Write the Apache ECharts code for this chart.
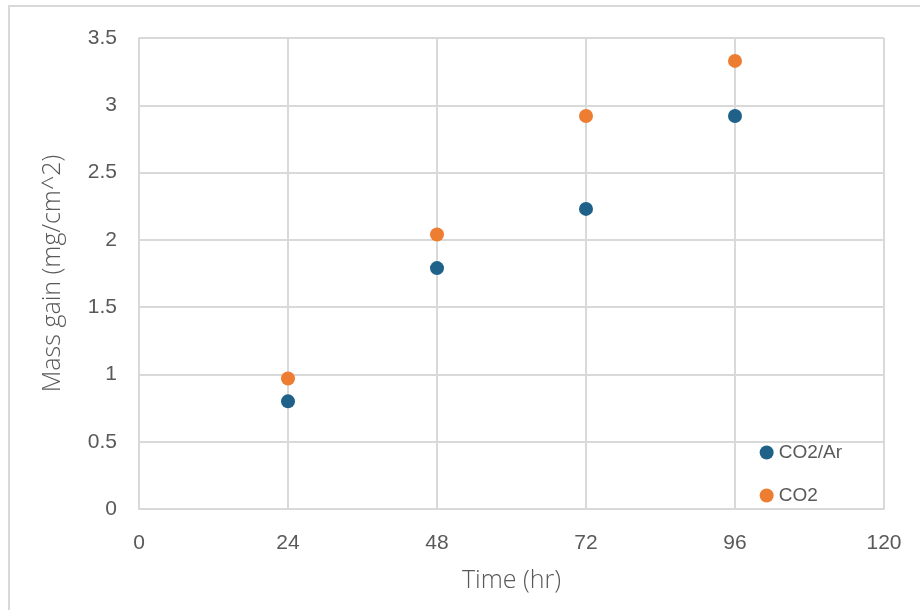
<!DOCTYPE html>
<html>
<head>
<meta charset="utf-8">
<script src="https://cdn.jsdelivr.net/npm/echarts@6/dist/echarts.min.js"></script>
<style>
  html, body { margin: 0; padding: 0; background: #ffffff; }
  #chart { width: 920px; height: 610px; }
</style>
</head>
<body>
<div id="chart"></div>
<script>
// Exposure time in hours
const times = [24, 48, 72, 96];
// Mass gain (mg/cm^2) for each atmosphere
const co2ArGain = [0.80, 1.79, 2.23, 2.92];
const co2Gain = [0.97, 2.04, 2.92, 3.33];
const seriesNames = ['CO2/Ar', 'CO2'];

const FONT = '"Liberation Sans", Arial, sans-serif';
const TITLE_FONT = '"Open Sans", "Liberation Sans", sans-serif';
const TEXT = '#595959';
const GRID = '#d9d9d9';

const chart = echarts.init(document.getElementById('chart'), null, { renderer: 'canvas' });

chart.setOption({
  backgroundColor: '#ffffff',
  animation: false,
  graphic: [{
    type: 'rect',
    shape: { x: 9, y: 6, width: 1000, height: 1000 },
    style: { fill: 'none', stroke: '#d9d9d9', lineWidth: 2 },
    silent: true
  }],
  grid: { left: 139, right: 36, top: 38, bottom: 101 },
  legend: {
    orient: 'vertical',
    right: 73,
    top: 438,
    itemWidth: 14,
    itemHeight: 14,
    itemGap: 24,
    icon: 'circle',
    textStyle: { color: TEXT, fontSize: 19, fontFamily: FONT },
    data: seriesNames
  },
  xAxis: {
    type: 'value',
    min: 0, max: 120, interval: 24,
    name: 'Time (hr)',
    nameLocation: 'middle',
    nameGap: 59,
    nameTextStyle: { color: TEXT, fontSize: 25, fontWeight: 300, fontFamily: TITLE_FONT },
    axisLine: { show: true, lineStyle: { color: GRID, width: 2 } },
    axisTick: { show: false },
    axisLabel: { color: TEXT, fontSize: 21, fontFamily: FONT, margin: 24 },
    splitLine: { show: true, lineStyle: { color: GRID, width: 2 } }
  },
  yAxis: {
    type: 'value',
    min: 0, max: 3.5, interval: 0.5,
    name: 'Mass gain (mg/cm^2)',
    nameLocation: 'middle',
    nameGap: 74,
    nameTextStyle: { color: TEXT, fontSize: 25, fontWeight: 300, fontFamily: TITLE_FONT },
    axisLine: { show: true, lineStyle: { color: GRID, width: 2 } },
    axisTick: { show: false },
    axisLabel: { color: TEXT, fontSize: 21, fontFamily: FONT, margin: 22 },
    splitLine: { show: true, lineStyle: { color: GRID, width: 2 } }
  },
  series: [
    {
      name: seriesNames[0],
      type: 'scatter',
      symbol: 'circle',
      symbolSize: 14,
      itemStyle: { color: '#1f6189', opacity: 1 },
      data: times.map((t, i) => [t, co2ArGain[i]])
    },
    {
      name: seriesNames[1],
      type: 'scatter',
      symbol: 'circle',
      symbolSize: 14,
      itemStyle: { color: '#ed7d31', opacity: 1 },
      data: times.map((t, i) => [t, co2Gain[i]])
    }
  ]
});
</script>
</body>
</html>
